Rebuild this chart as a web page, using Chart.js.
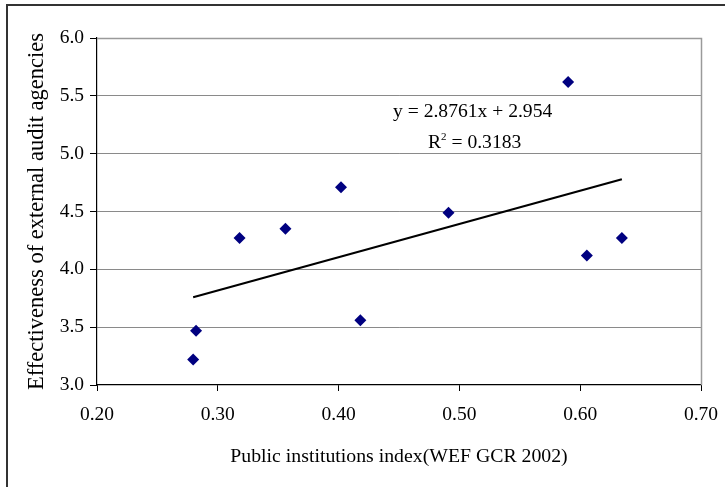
<!DOCTYPE html>
<html>
<head>
<meta charset="utf-8">
<script src="https://cdn.jsdelivr.net/npm/chart.js@4"></script>
<style>
  html,body{margin:0;padding:0;background:#fff;overflow:hidden;}
  #wrap{position:relative;width:725px;height:487px;}
  #frame{position:absolute;left:6px;top:4px;width:760px;height:520px;border:2px solid #333;box-sizing:border-box;}
  canvas{position:absolute;left:0;top:0;}
  .eq{position:absolute;font-family:"Liberation Serif","Times New Roman",serif;font-size:19.6px;color:#000;white-space:nowrap;line-height:1;}
  .eq sup{font-size:11px;vertical-align:8px;line-height:0;}
</style>
</head>
<body>
<div id="wrap">
  <div id="frame"></div>
  <canvas id="c" width="725" height="487"></canvas>
  <div class="eq" id="eq1" style="left:393px;top:101px;">y = 2.8761x + 2.954</div>
  <div class="eq" id="eq2" style="left:428px;top:132px;">R<sup>2</sup> = 0.3183</div>
</div>
<script>
// Data
const publicInstitutions = [0.2796, 0.282, 0.318, 0.356, 0.402, 0.418, 0.491, 0.590, 0.6055, 0.6345];
const auditEffectiveness = [3.22, 3.47, 4.27, 4.35, 4.71, 3.56, 4.49, 5.62, 4.12, 4.27];
const xTicks = [0.20, 0.30, 0.40, 0.50, 0.60, 0.70];
const yTicks = [3.0, 3.5, 4.0, 4.5, 5.0, 5.5, 6.0];
const trendSlope = 2.8761;
const trendIntercept = 2.954;
const xTitle = "Public institutions index(WEF GCR 2002)";
const yTitle = "Effectiveness of external audit agencies";

const points = publicInstitutions.map((x, i) => ({x: x, y: auditEffectiveness[i]}));
const xMin = Math.min(...publicInstitutions), xMax = Math.max(...publicInstitutions);
const trend = [xMin, xMax].map(x => ({x: x, y: trendSlope * x + trendIntercept}));

const FONT = "'Liberation Serif','Times New Roman',serif";

const frameLines = {
  id: 'frameLines',
  beforeDatasetsDraw(chart) {
    const {ctx, chartArea: a} = chart;
    ctx.save();
    ctx.strokeStyle = '#9a9a9a';
    ctx.lineWidth = 1.5;
    ctx.beginPath();
    ctx.moveTo(a.left, a.top + 0.5);
    ctx.lineTo(a.right + 0.5, a.top + 0.5);
    ctx.lineTo(a.right + 0.5, a.bottom);
    ctx.stroke();
    ctx.restore();
  }
};

new Chart(document.getElementById('c'), {
  type: 'scatter',
  data: {
    datasets: [
      {
        label: 'data',
        data: points,
        pointStyle: 'rectRot',
        pointRadius: 6,
        pointHoverRadius: 6,
        backgroundColor: '#000080',
        borderColor: '#000080',
        borderWidth: 0
      },
      {
        label: 'trend',
        type: 'line',
        data: trend,
        borderColor: '#000',
        borderWidth: 2.2,
        pointRadius: 0,
        fill: false
      }
    ]
  },
  options: {
    responsive: false,
    animation: false,
    events: [],
    layout: {padding: {left: 0, top: 38, right: 24, bottom: 0}},
    plugins: {legend: {display: false}, tooltip: {enabled: false}},
    scales: {
      x: {
        type: 'linear',
        min: 0.2, max: 0.7,
        afterBuildTicks(s) { s.ticks = xTicks.map(v => ({value: v})); },
        afterFit(s) { s.height = 102; s.paddingRight = 0; s.paddingLeft = 0; },
        ticks: {
          color: '#000',
          font: {family: FONT, size: 19.5},
          padding: 12,
          callback: v => Number(v).toFixed(2)
        },
        grid: {
          drawOnChartArea: false,
          drawTicks: true,
          tickLength: 6,
          tickColor: '#000',
          color: '#000'
        },
        border: {color: '#000', width: 1.2},
        title: {
          display: true,
          text: xTitle,
          color: '#000',
          font: {family: FONT, size: 19.8},
          padding: {top: 0, bottom: 18}
        }
      },
      y: {
        type: 'linear',
        min: 3, max: 6,
        afterBuildTicks(s) { s.ticks = yTicks.map(v => ({value: v})); },
        afterFit(s) { s.width = 97; s.paddingTop = 0; s.paddingBottom = 0; },
        ticks: {
          color: '#000',
          font: {family: FONT, size: 19.5},
          padding: 6,
          callback: v => Number(v).toFixed(1)
        },
        grid: {
          drawOnChartArea: true,
          drawTicks: true,
          tickLength: 7,
          tickColor: '#000',
          color: ctx => (ctx.tick && (ctx.tick.value === 3 || ctx.tick.value === 6)) ? 'rgba(0,0,0,0)' : '#8a8a8a',
          lineWidth: 1,
          dash: [1, 1]
        },
        border: {color: '#000', width: 1.2},
        title: {
          display: true,
          text: yTitle,
          color: '#000',
          font: {family: FONT, size: 22.5},
          padding: {top: 24, bottom: 0}
        }
      }
    }
  },
  plugins: [frameLines]
});
</script>
</body>
</html>
